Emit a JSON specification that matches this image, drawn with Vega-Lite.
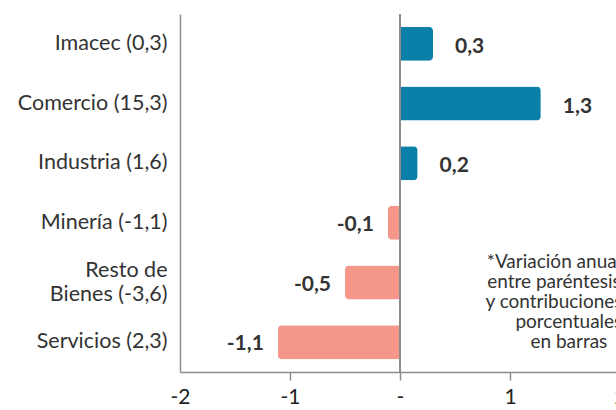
{
  "$schema": "https://vega.github.io/schema/vega-lite/v6.json",
  "width": 440,
  "height": 358,
  "autosize": {"type": "none"},
  "padding": {"left": 180, "top": 14, "right": 0, "bottom": 38},
  "background": "white",
  "config": {"view": {"stroke": null}, "font": "Lato"},
  "data": {"values": [
    {"cat": "Imacec (0,3)", "value": 0.3, "lbl": "0,3"},
    {"cat": "Comercio (15,3)", "value": 1.28, "lbl": "1,3"},
    {"cat": "Industria (1,6)", "value": 0.16, "lbl": "0,2"},
    {"cat": "Minería (-1,1)", "value": -0.11, "lbl": "-0,1"},
    {"cat": "Resto de|Bienes (-3,6)", "value": -0.5, "lbl": "-0,5"},
    {"cat": "Servicios (2,3)", "value": -1.11, "lbl": "-1,1"}
  ]},
  "layer": [
    {
      "transform": [{"filter": "datum.value >= 0"}],
      "mark": {"type": "bar", "color": "#0A80A8", "cornerRadiusTopRight": 4, "cornerRadiusBottomRight": 4},
      "encoding": {
        "x": {"field": "value", "type": "quantitative",
          "scale": {"domain": [-2, 2], "nice": false, "zero": false},
          "axis": {"values": [-2, -1, 0, 1, 2], "labelExpr": "datum.value == 0 ? '-' : '' + datum.value",
            "title": null, "grid": false, "domainColor": "#8c8c8c", "domainWidth": 1.5,
            "tickColor": "#8c8c8c", "tickWidth": 1.5, "tickSize": 8,
            "tickOpacity": {"condition": {"test": "datum.value == -2", "value": 0}, "value": 1},
            "labelFontSize": 21, "labelColor": "#222", "labelPadding": 6, "labelFlush": false, "labelOverlap": false, "labelBound": false}},
        "y": {"field": "cat", "type": "nominal", "sort": null,
          "scale": {"paddingInner": 0.43, "paddingOuter": 0.215},
          "axis": {"title": null, "ticks": false, "domainColor": "#8c8c8c", "domainWidth": 1.5,
            "labelFontSize": 21.5, "labelColor": "#333", "labelPadding": 13,
            "labelOffset": {"condition": {"test": "indexof(datum.value, '|') >= 0", "value": -12}, "value": 0},
            "labelExpr": "split(datum.label, '|')", "labelLineHeight": 24, "labelLimit": 220}}
      }
    },
    {
      "transform": [{"filter": "datum.value < 0"}],
      "mark": {"type": "bar", "color": "#F4978A", "cornerRadiusTopLeft": 4, "cornerRadiusBottomLeft": 4},
      "encoding": {
        "x": {"field": "value", "type": "quantitative"},
        "y": {"field": "cat", "type": "nominal", "sort": null}
      }
    },
    {
      "mark": {"type": "rule", "color": "#8c8c8c", "strokeWidth": 1.5},
      "encoding": {"x": {"datum": 0, "type": "quantitative"}}
    },
    {
      "transform": [{"filter": "datum.value >= 0"}],
      "mark": {"type": "text", "align": "left", "dx": 22, "dy": 3, "fontWeight": "bold", "fontSize": 21, "color": "#333"},
      "encoding": {
        "x": {"field": "value", "type": "quantitative"},
        "y": {"field": "cat", "type": "nominal", "sort": null},
        "text": {"field": "lbl"}
      }
    },
    {
      "transform": [{"filter": "datum.value < 0"}],
      "mark": {"type": "text", "align": "right", "dx": -14, "dy": 2, "fontWeight": "bold", "fontSize": 21, "color": "#333"},
      "encoding": {
        "x": {"field": "value", "type": "quantitative"},
        "y": {"field": "cat", "type": "nominal", "sort": null},
        "text": {"field": "lbl"}
      }
    },
    {
      "data": {"values": [{"note": "nota1"}]},
      "mark": {"type": "text", "align": "center", "baseline": "middle", "dy": 39, "fontSize": 19, "lineHeight": 20.3, "color": "#333",
        "text": ["*Variación anual", "entre paréntesis", "y contribuciones"]},
      "encoding": {
        "x": {"datum": 1.4, "type": "quantitative"},
        "y": {"datum": "Minería (-1,1)", "type": "nominal"}
      }
    },
    {
      "data": {"values": [{"note": "nota2"}]},
      "mark": {"type": "text", "align": "center", "baseline": "middle", "dy": -20, "fontSize": 19, "lineHeight": 20.3, "color": "#333",
        "text": ["porcentuales", "en barras"]},
      "encoding": {
        "x": {"datum": 1.535, "type": "quantitative"},
        "y": {"datum": "Servicios (2,3)", "type": "nominal"}
      }
    }
  ]
}
